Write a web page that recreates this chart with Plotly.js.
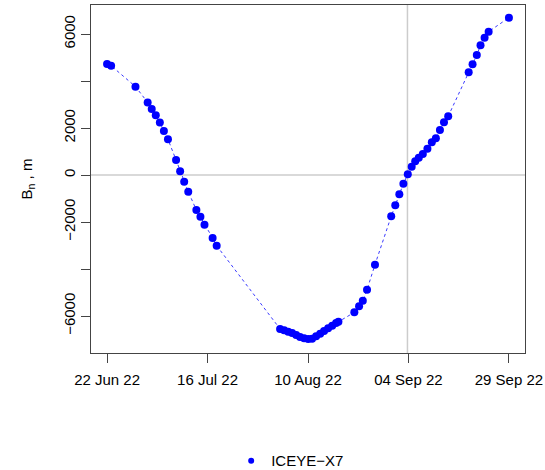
<!DOCTYPE html>
<html>
<head>
<meta charset="utf-8">
<script src="https://cdn.plot.ly/plotly-3.0.1.min.js"></script>
<style>html,body{margin:0;padding:0;background:#fff;}#chart{width:545px;height:470px;}</style>
</head>
<body>
<div id="chart"></div>
<script>
// Acquisition times (ICEYE-X7)
const dates = [
  "2022-06-22 00:00","2022-06-23 00:00","2022-06-29 00:00","2022-07-02 00:00","2022-07-03 00:00",
  "2022-07-04 00:00","2022-07-05 00:00","2022-07-06 00:00","2022-07-07 00:00","2022-07-09 00:00",
  "2022-07-10 00:00","2022-07-11 00:00","2022-07-12 00:00","2022-07-14 00:00","2022-07-15 00:00",
  "2022-07-16 00:00","2022-07-18 00:00","2022-07-19 00:00",
  "2022-08-03 15:00","2022-08-04 15:00","2022-08-05 15:00","2022-08-06 14:00","2022-08-07 14:00",
  "2022-08-08 13:00","2022-08-09 13:00","2022-08-10 13:00","2022-08-11 12:00","2022-08-12 12:00",
  "2022-08-13 12:00","2022-08-14 11:00","2022-08-15 11:00","2022-08-16 11:00","2022-08-17 10:00",
  "2022-08-18 00:00",
  "2022-08-21 22:00","2022-08-23 02:00","2022-08-24 00:00","2022-08-25 01:00","2022-08-27 00:00",
  "2022-08-31 00:00","2022-09-01 00:00","2022-09-02 00:00","2022-09-03 00:00","2022-09-04 02:00",
  "2022-09-05 01:00","2022-09-05 22:00","2022-09-06 19:00","2022-09-07 19:00","2022-09-08 22:00",
  "2022-09-10 00:00","2022-09-11 00:00","2022-09-12 00:00","2022-09-13 00:00","2022-09-14 01:00",
  "2022-09-19 02:00","2022-09-20 01:00","2022-09-21 02:00","2022-09-22 00:00","2022-09-23 00:00",
  "2022-09-24 00:00","2022-09-29 00:00"
];
// Normal baseline B_n (m)
const bn = [
  4720, 4650, 3760, 3090, 2810,
  2540, 2230, 1870, 1520, 640,
  160, -285, -710, -1490, -1775,
  -2115, -2680, -3010,
  -6550, -6610, -6670, -6720, -6810,
  -6890, -6950, -6980, -6965, -6865,
  -6755, -6640, -6525, -6415, -6300,
  -6245,
  -5845, -5590, -5350, -4880, -3815,
  -1755, -1290, -820, -370, 30,
  355, 585, 735, 895, 1120,
  1390, 1560, 1915, 2245, 2500,
  4370, 4710, 5105, 5520, 5845,
  6100, 6695
];
const seriesName = "ICEYE\u2212X7";
const xTickVals = ["2022-06-22 00:00","2022-07-16 18:00","2022-08-10 12:00","2022-09-04 06:00","2022-09-29 00:00"];
const xTickText = ["22 Jun 22","16 Jul 22","10 Aug 22","04 Sep 22","29 Sep 22"];
const yTickVals = [-6000,-4000,-2000,0,2000,4000,6000];
const yTickText = ["\u22126000","","\u22122000","0","2000","","6000"];
const refDate = "2022-09-04 00:00";
const refBn = 0;

const font = {family: "Liberation Sans, Arial, sans-serif", size: 15, color: "#000"};

const traces = [
  {
    x: dates, y: bn, type: "scatter", mode: "lines+markers",
    line: {color: "#3a3aff", width: 1, dash: "dot"},
    marker: {color: "#0000ff", size: 8},
    showlegend: false, hoverinfo: "x+y"
  },
  {
    x: [null], y: [null], type: "scatter", mode: "markers",
    marker: {color: "#0000ff", size: 6},
    name: seriesName, showlegend: true
  }
];

const layout = {
  width: 545, height: 470,
  margin: {l: 91, r: 20, t: 5, b: 117, pad: 0, autoexpand: false},
  paper_bgcolor: "#fff", plot_bgcolor: "#fff",
  font: font,
  showlegend: true,
  legend: {orientation: "h", x: 0.323, xanchor: "left", y: -0.31, yanchor: "middle",
           font: font, bgcolor: "rgba(0,0,0,0)"},
  xaxis: {
    type: "date",
    range: ["2022-06-18 01:00", "2022-10-02 23:00"],
    tickmode: "array", tickvals: xTickVals, ticktext: xTickText,
    ticks: "outside", ticklen: 9, tickwidth: 1, tickcolor: "#444",
    ticklabelstandoff: 4,
    showline: true, mirror: true, linecolor: "#444", linewidth: 1,
    showgrid: false, zeroline: false, tickfont: font, automargin: false
  },
  yaxis: {
    range: [-7574, 7234],
    tickmode: "array", tickvals: yTickVals, ticktext: yTickText,
    tickangle: -90,
    ticks: "outside", ticklen: 9, tickwidth: 1, tickcolor: "#444",
    showline: true, mirror: true, linecolor: "#444", linewidth: 1,
    showgrid: false, zeroline: false, tickfont: font, automargin: false,
    title: {text: "B<sub>n</sub> , m", font: font, standoff: 24}
  },
  shapes: [
    {type: "line", xref: "x", yref: "y domain", x0: refDate, x1: refDate, y0: 0, y1: 1,
     line: {color: "#cccccc", width: 1.5}, layer: "below"},
    {type: "line", xref: "x domain", yref: "y", x0: 0, x1: 1, y0: refBn, y1: refBn,
     line: {color: "#cccccc", width: 1.5}, layer: "below"}
  ]
};

Plotly.newPlot("chart", traces, layout, {displayModeBar: false, staticPlot: true});
</script>
</body>
</html>
